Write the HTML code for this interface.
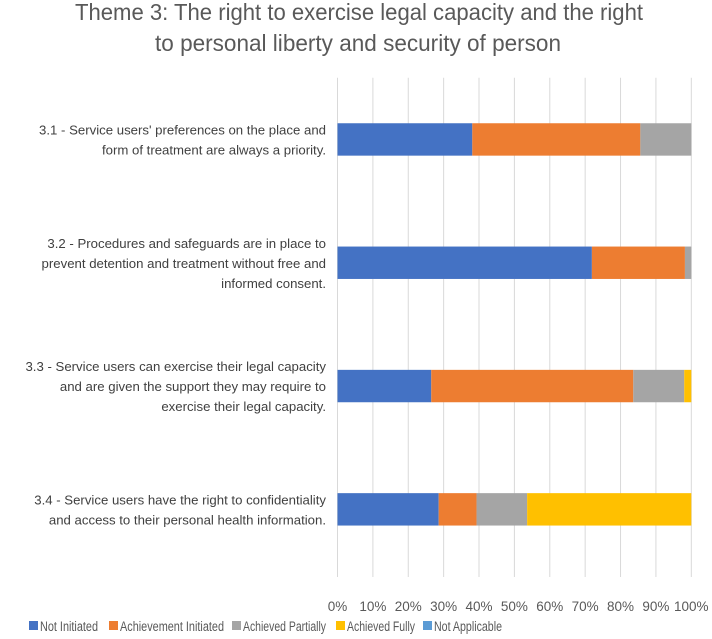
<!DOCTYPE html>
<html><head><meta charset="utf-8"><style>
body{margin:0;background:#fff;font-family:"Liberation Sans",sans-serif;}
svg text{font-family:"Liberation Sans",sans-serif;}
</style></head><body>
<svg id="chart" width="712" height="634" viewBox="0 0 712 634">
<g fill="#595959" font-size="23" text-anchor="middle">
<text x="359" y="20" textLength="568" lengthAdjust="spacingAndGlyphs">Theme 3: The right to exercise legal capacity and the right</text>
<text x="358" y="51" textLength="406" lengthAdjust="spacingAndGlyphs">to personal liberty and security of person</text>
</g>
<g id="grid"></g><g id="bars"></g><g id="cats"></g><g id="ticks"></g><g id="legend"></g>
</svg>
<script>
const categories=[
["3.1 - Service users' preferences on the place and","form of treatment are always a priority."],
["3.2 - Procedures and safeguards are in place to","prevent detention and treatment without free and","informed consent."],
["3.3 - Service users can exercise their legal capacity","and are given the support they may require to","exercise their legal capacity."],
["3.4 - Service users have the right to confidentiality","and access to their personal health information."]];
const seriesNames=["Not Initiated","Achievement Initiated","Achieved Partially","Achieved Fully","Not Applicable"];
const notInitiated=[38.1,71.9,26.5,28.6];
const achievementInitiated=[47.5,26.3,57.1,10.7];
const achievedPartially=[14.4,1.8,14.4,14.3];
const achievedFully=[0,0,2.0,46.4];
const notApplicable=[0,0,0,0];
const tickLabels=["0%","10%","20%","30%","40%","50%","60%","70%","80%","90%","100%"];
const colors=["#4472C4","#ED7D31","#A5A5A5","#FFC000","#5B9BD5"];
const series=[notInitiated,achievementInitiated,achievedPartially,achievedFully,notApplicable];
const NS="http://www.w3.org/2000/svg";
const X0=337.5,X1=691.3,Y0=77.8,Y1=571;
const xs=v=>X0+(X1-X0)*v/100;
const band=(Y1-Y0)/categories.length;
const yc=i=>Y0+band*(i+0.5);
function mk(tag,attrs,parent){const e=document.createElementNS(NS,tag);for(const k in attrs)e.setAttribute(k,attrs[k]);document.getElementById(parent).appendChild(e);return e;}
tickLabels.forEach((t,i)=>{const v=i*10;
const l=mk('line',{x1:xs(v),x2:xs(v),y1:Y0,y2:Y1+6,stroke:'#d9d9d9','stroke-width':1},'grid');


const tx=mk('text',{x:xs(v),y:611,'text-anchor':'middle','font-size':13.5,fill:'#595959'},'ticks');tx.textContent=t;


});
categories.forEach((c,i)=>{let acc=0;
series.forEach((s,j)=>{const v=s[i];if(v>0){const r=mk('rect',{x:xs(acc),y:yc(i)-16.2,width:xs(acc+v)-xs(acc),height:32.4,fill:colors[j]},'bars');

}acc+=v;});
const n=c.length;
c.forEach((line,k)=>{const t=mk('text',{x:326,y:yc(i)+5+(k-(n-1)/2)*20,'text-anchor':'end','font-size':13.2,fill:'#404040'},'cats');t.textContent=line;

});
});
const lx=[29,109,232,336,423];
const lw=[58,104,83,68,68];
seriesNames.forEach((n,j)=>{const r=mk('rect',{x:lx[j],y:621,width:9,height:9,fill:colors[j]},'legend');


const t=mk('text',{x:lx[j]+11,y:631,'font-size':13.5,fill:'#595959',textLength:lw[j],lengthAdjust:'spacingAndGlyphs'},'legend');t.textContent=n;

});
</script>
</body></html>
